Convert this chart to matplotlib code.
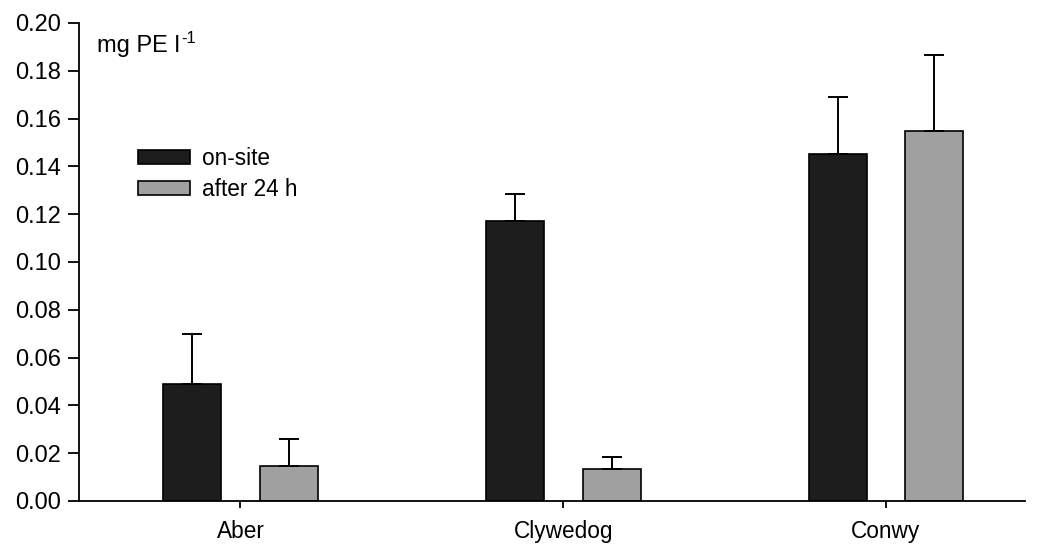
import numpy as np
import matplotlib
matplotlib.use('Agg')
import matplotlib.pyplot as plt

plt.rcParams['font.family'] = ['Liberation Sans', 'DejaVu Sans']
plt.rcParams['mathtext.default'] = 'regular'

sites = ['Aber', 'Clywedog', 'Conwy']
on_site = [0.049, 0.117, 0.145]
on_site_err = [0.021, 0.0115, 0.024]
after_24h = [0.0148, 0.0135, 0.155]
after_24h_err = [0.011, 0.005, 0.0316]

x = np.arange(len(sites))
width = 0.18
offset = 0.15

fig = plt.figure(figsize=(10.37, 5.52), dpi=100)
ax = fig.add_axes([0.0762, 0.0924, 0.912, 0.866])

err_style = dict(elinewidth=1.4, capsize=7, capthick=1.4, ecolor='black')
ax.bar(x - offset, on_site, width, color='#1d1d1d', edgecolor='black',
       linewidth=1.2, label='on-site',
       yerr=[np.zeros(len(x)), on_site_err], error_kw=err_style, zorder=2)
ax.bar(x + offset, after_24h, width, color='#a0a0a0', edgecolor='black',
       linewidth=1.2, label='after 24 h',
       yerr=[np.zeros(len(x)), after_24h_err], error_kw=err_style, zorder=2)

ax.set_xlim(-0.5, 0.43 + len(sites) - 1)
ax.set_ylim(0, 0.20)
yt = np.arange(0, 0.201, 0.02)
ax.set_yticks(yt)
ax.set_yticklabels([f'{v:.2f}' for v in yt])
ax.set_xticks(x)
ax.set_xticklabels(sites)

for side in ['top', 'right']:
    ax.spines[side].set_visible(False)
for side in ['left', 'bottom']:
    ax.spines[side].set_linewidth(1.3)

ax.tick_params(axis='y', direction='out', length=8, width=1.3, labelsize=17, pad=5)
ax.tick_params(axis='x', direction='out', length=5, width=1.3, labelsize=16.3, pad=9)

# unit label, with a plain hyphen in the exponent
t = ax.text(0.019, 0.975, 'mg PE l', transform=ax.transAxes,
            fontsize=17, va='top', ha='left')
fig.canvas.draw()
bb = t.get_window_extent().transformed(ax.transAxes.inverted())
ax.text(bb.x1 + 0.001, 0.984, '-1', transform=ax.transAxes,
        fontsize=12, va='top', ha='left')

ax.legend(loc='upper left', bbox_to_anchor=(0.062, 0.74), frameon=False,
          fontsize=16.3, borderpad=0, borderaxespad=0, handlelength=2.3,
          handleheight=0.6, handletextpad=0.55, labelspacing=0.35)

fig.savefig('out.png', dpi=100)
